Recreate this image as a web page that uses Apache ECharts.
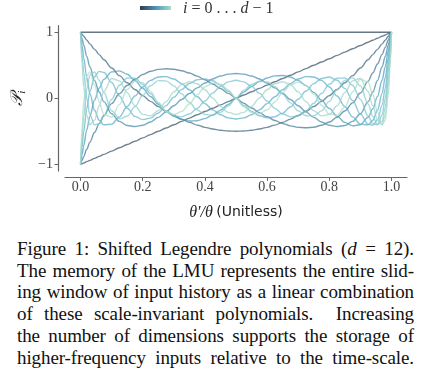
<!DOCTYPE html>
<html>
<head>
<meta charset="utf-8">
<script src="https://cdn.jsdelivr.net/npm/echarts@6/dist/echarts.min.js"></script>
<style>
  html, body { margin: 0; padding: 0; background: #fff; }
  #chart { position: absolute; left: 0; top: 0; width: 432px; height: 235px; }
  .caption {
    position: absolute; left: 17px; top: 238px; width: 397px;
    font-family: "Liberation Serif", "DejaVu Serif", serif;
    font-size: 19px; line-height: 21.7px; color: #111;
    letter-spacing: -0.1px; word-spacing: -2px;
  }
  .caption div { text-align: justify; text-align-last: justify; }
</style>
</head>
<body>
<div id="chart"></div>
<div class="caption">
  <div>Figure 1: Shifted Legendre polynomials (<i>d</i> = 12).</div>
  <div>The memory of the LMU represents the entire slid-</div>
  <div>ing window of input history as a linear combination</div>
  <div>of these scale-invariant polynomials.&nbsp; Increasing</div>
  <div>the number of dimensions supports the storage of</div>
  <div>higher-frequency inputs relative to the time-scale.</div>
</div>
<script>
// x = theta'/theta, shared by all curves
var xs = [0, 0.005, 0.01, 0.02, 0.03, 0.045, 0.06, 0.075, 0.1, 0.125, 0.15, 0.175, 0.2, 0.225, 0.25, 0.275, 0.3, 0.325, 0.35, 0.375, 0.4, 0.425, 0.45, 0.475,
  0.5, 0.525, 0.55, 0.575, 0.6, 0.625, 0.65, 0.675, 0.7, 0.725, 0.75, 0.775, 0.8, 0.825, 0.85, 0.875, 0.9, 0.925, 0.94, 0.955, 0.97, 0.98, 0.99, 0.995, 1];

var p0 = [1, 1, 1, 1, 1, 1, 1, 1, 1, 1, 1, 1, 1, 1, 1, 1, 1, 1, 1, 1, 1, 1, 1, 1,
  1, 1, 1, 1, 1, 1, 1, 1, 1, 1, 1, 1, 1, 1, 1, 1, 1, 1, 1, 1, 1, 1, 1, 1, 1];
var p1 = [-1, -0.99, -0.98, -0.96, -0.94, -0.91, -0.88, -0.85, -0.8, -0.75, -0.7, -0.65, -0.6, -0.55, -0.5, -0.45, -0.4, -0.35, -0.3, -0.25, -0.2, -0.15, -0.1, -0.05,
  0, 0.05, 0.1, 0.15, 0.2, 0.25, 0.3, 0.35, 0.4, 0.45, 0.5, 0.55, 0.6, 0.65, 0.7, 0.75, 0.8, 0.85, 0.88, 0.91, 0.94, 0.96, 0.98, 0.99, 1];
var p2 = [1, 0.970, 0.941, 0.882, 0.825, 0.742, 0.662, 0.584, 0.46, 0.344, 0.235, 0.134, 0.04, -0.046, -0.125, -0.196, -0.26, -0.316, -0.365, -0.406, -0.44, -0.466, -0.485, -0.496,
  -0.5, -0.496, -0.485, -0.466, -0.44, -0.406, -0.365, -0.316, -0.26, -0.196, -0.125, -0.046, 0.04, 0.134, 0.235, 0.344, 0.46, 0.584, 0.662, 0.742, 0.825, 0.882, 0.941, 0.970, 1];
var p3 = [-1, -0.941, -0.883, -0.772, -0.666, -0.519, -0.384, -0.260, -0.08, 0.070, 0.193, 0.288, 0.36, 0.409, 0.438, 0.447, 0.44, 0.418, 0.383, 0.336, 0.28, 0.217, 0.148, 0.075,
  0, -0.075, -0.148, -0.217, -0.28, -0.336, -0.383, -0.418, -0.44, -0.447, -0.438, -0.409, -0.36, -0.288, -0.193, -0.070, 0.08, 0.260, 0.384, 0.519, 0.666, 0.772, 0.883, 0.941, 1];
var p4 = [1, 0.902, 0.809, 0.635, 0.477, 0.270, 0.095, -0.051, -0.233, -0.350, -0.412, -0.428, -0.408, -0.359, -0.289, -0.205, -0.113, -0.019, 0.073, 0.158, 0.232, 0.293, 0.338, 0.366,
  0.375, 0.366, 0.338, 0.293, 0.232, 0.158, 0.073, -0.019, -0.113, -0.205, -0.289, -0.359, -0.408, -0.428, -0.412, -0.350, -0.233, -0.051, 0.095, 0.270, 0.477, 0.635, 0.809, 0.902, 1];
var p5 = [-1, -0.855, -0.720, -0.480, -0.274, -0.027, 0.157, 0.286, 0.400, 0.416, 0.365, 0.270, 0.153, 0.028, -0.090, -0.192, -0.271, -0.322, -0.345, -0.340, -0.308, -0.252, -0.179, -0.093,
  0, 0.093, 0.179, 0.252, 0.308, 0.340, 0.345, 0.322, 0.271, 0.192, 0.090, -0.028, -0.153, -0.270, -0.365, -0.416, -0.400, -0.286, -0.157, 0.027, 0.274, 0.480, 0.720, 0.855, 1];
var p6 = [1, 0.800, 0.620, 0.315, 0.075, -0.180, -0.332, -0.403, -0.392, -0.281, -0.125, 0.035, 0.172, 0.271, 0.323, 0.329, 0.293, 0.223, 0.129, 0.024, -0.081, -0.175, -0.249, -0.296,
  -0.313, -0.296, -0.249, -0.175, -0.081, 0.024, 0.129, 0.223, 0.293, 0.329, 0.323, 0.271, 0.172, 0.035, -0.125, -0.281, -0.392, -0.403, -0.332, -0.180, 0.075, 0.315, 0.620, 0.800, 1];
var p7 = [-1, -0.738, -0.512, -0.151, 0.104, 0.327, 0.408, 0.391, 0.240, 0.034, -0.150, -0.274, -0.323, -0.301, -0.223, -0.111, 0.015, 0.132, 0.224, 0.280, 0.294, 0.265, 0.199, 0.107,
  0, -0.107, -0.199, -0.265, -0.294, -0.280, -0.224, -0.132, -0.015, 0.111, 0.223, 0.301, 0.323, 0.274, 0.150, -0.034, -0.240, -0.391, -0.408, -0.327, -0.104, 0.151, 0.512, 0.738, 1];
var p8 = [1, 0.670, 0.397, -0.005, -0.249, -0.401, -0.383, -0.271, -0.017, 0.198, 0.307, 0.303, 0.212, 0.073, -0.074, -0.195, -0.267, -0.281, -0.239, -0.152, -0.040, 0.078, 0.180, 0.249,
  0.273, 0.249, 0.180, 0.078, -0.040, -0.152, -0.239, -0.281, -0.267, -0.195, -0.074, 0.073, 0.212, 0.303, 0.307, 0.198, -0.017, -0.271, -0.383, -0.401, -0.249, -0.005, 0.397, 0.670, 1];
var p9 = [-1, -0.597, -0.280, 0.142, 0.350, 0.398, 0.274, 0.087, -0.188, -0.310, -0.272, -0.129, 0.046, 0.191, 0.268, 0.264, 0.189, 0.069, -0.064, -0.177, -0.246, -0.258, -0.211, -0.119,
  0, 0.119, 0.211, 0.258, 0.246, 0.177, 0.064, -0.069, -0.189, -0.264, -0.268, -0.191, -0.046, 0.129, 0.272, 0.310, 0.188, -0.087, -0.274, -0.398, -0.350, -0.142, 0.280, 0.597, 1];
var p10 = [1, 0.520, 0.165, -0.255, -0.401, -0.328, -0.113, 0.103, 0.301, 0.264, 0.086, -0.114, -0.244, -0.266, -0.188, -0.050, 0.097, 0.207, 0.251, 0.221, 0.129, 0.003, -0.122, -0.213,
  -0.246, -0.213, -0.122, 0.003, 0.129, 0.221, 0.251, 0.207, 0.097, -0.050, -0.188, -0.266, -0.244, -0.114, 0.086, 0.264, 0.301, 0.103, -0.113, -0.328, -0.401, -0.255, 0.165, 0.520, 1];
var p11 = [-1, -0.440, -0.053, 0.339, 0.401, 0.207, -0.059, -0.246, -0.288, -0.096, 0.133, 0.258, 0.237, 0.105, -0.064, -0.196, -0.246, -0.201, -0.086, 0.055, 0.174, 0.233, 0.215, 0.128,
  0, -0.128, -0.215, -0.233, -0.174, -0.055, 0.086, 0.201, 0.246, 0.196, 0.064, -0.105, -0.237, -0.258, -0.133, 0.096, 0.288, 0.246, 0.059, -0.207, -0.401, -0.339, 0.053, 0.440, 1];

var curves = [p0, p1, p2, p3, p4, p5, p6, p7, p8, p9, p10, p11];
var xTicks = [0, 0.2, 0.4, 0.6, 0.8, 1.0];
var yTicks = [-1, 0, 1];

// dark slate -> blue -> mint, one per degree
var colors = ['#34495a', '#3d5a6e', '#446c83', '#487e98', '#4b90ad', '#52a0bf', '#5eaecb', '#6cbacf', '#7cc4d0', '#8ccdcf', '#9cd5cc', '#addec9'];

var chart = echarts.init(document.getElementById('chart'));

var series = curves.map(function (ys, i) {
  return {
    name: 'P' + i,
    type: 'line',
    data: xs.map(function (x, k) { return [x, ys[k]]; }),
    showSymbol: false,
    smooth: 0.35,
    smoothMonotone: 'x',
    lineStyle: { color: colors[i], width: 1.4, opacity: 0.75 },
    z: 2 + i
  };
});

var tickFont = { fontFamily: 'Liberation Serif, DejaVu Serif, serif', fontSize: 14, color: '#444' };

var option = {
  animation: false,
  backgroundColor: '#fff',
  grid: { left: 65, right: 25, top: 25.7, height: 145.2 },
  xAxis: {
    type: 'value',
    min: -0.05,
    max: 1.05,
    offset: 6.5,
    axisLine: { show: true, onZero: false, lineStyle: { color: '#666', width: 1.2 } },
    axisTick: { show: true, customValues: xTicks, length: 3.5, lineStyle: { color: '#666' } },
    axisLabel: Object.assign({ customValues: xTicks, margin: 3, formatter: function (v) { return v.toFixed(1); } }, tickFont),
    splitLine: { show: false },
    name: '{m|θ′/θ} {s|(Unitless)}',
    nameLocation: 'middle',
    nameGap: 27,
    nameTextStyle: {
      rich: {
        m: { fontFamily: 'Liberation Serif, DejaVu Serif, serif', fontStyle: 'italic', fontSize: 16, color: '#222' },
        s: { fontFamily: 'DejaVu Sans, sans-serif', fontSize: 14, color: '#222' }
      }
    }
  },
  yAxis: {
    type: 'value',
    min: -1.1,
    max: 1.1,
    offset: 7,
    axisLine: { show: true, onZero: false, lineStyle: { color: '#666', width: 1.2 } },
    axisTick: { show: true, customValues: yTicks, length: 3.5, lineStyle: { color: '#666' } },
    axisLabel: Object.assign({ customValues: yTicks, margin: 5, formatter: function (v) { return v < 0 ? '−' + Math.abs(v) : String(v); } }, tickFont),
    splitLine: { show: false },
    name: '{p|𝒫}{i|i}',
    nameLocation: 'middle',
    nameRotate: 90,
    nameGap: 28,
    nameTextStyle: {
      rich: {
        p: { fontFamily: 'DejaVu Serif, Noto Sans, serif', fontStyle: 'italic', fontSize: 17, color: '#222' },
        i: { fontFamily: 'Liberation Serif, serif', fontStyle: 'italic', fontSize: 11, color: '#222', padding: [8, 0, 0, 0] }
      }
    }
  },
  graphic: [
    {
      type: 'rect',
      shape: { x: 140, y: 6, width: 31, height: 4 },
      style: {
        fill: new echarts.graphic.LinearGradient(0, 0, 1, 0, [
          { offset: 0, color: '#2e3f4b' },
          { offset: 0.5, color: '#4f93b3' },
          { offset: 1, color: '#a6dcc9' }
        ])
      }
    },
    {
      type: 'text',
      x: 183,
      y: 9,
      style: {
        text: '{it|i} = 0 . . . {it|d} − 1',
        verticalAlign: 'middle',
        fontFamily: 'Liberation Serif, DejaVu Serif, serif',
        fontSize: 16,
        fill: '#333',
        rich: { it: { fontStyle: 'italic', fontFamily: 'Liberation Serif, DejaVu Serif, serif', fontSize: 16, fill: '#333' } }
      }
    }
  ],
  series: series
};

chart.setOption(option);
</script>
</body>
</html>
